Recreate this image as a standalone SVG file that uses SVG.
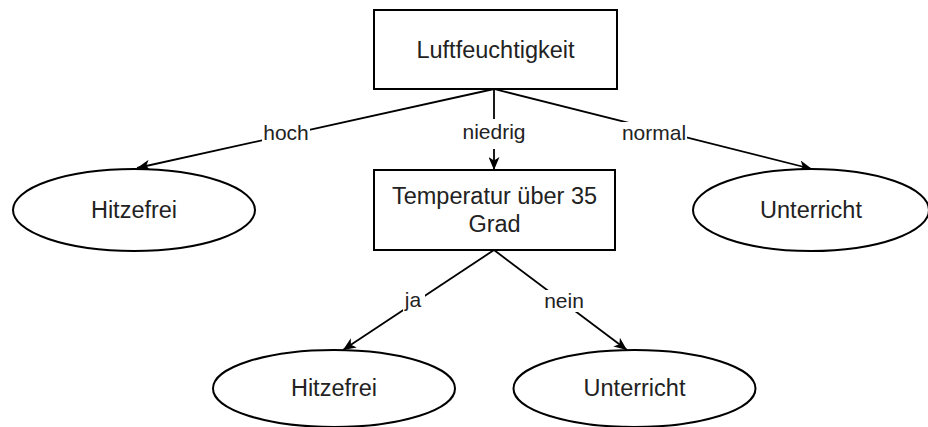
<svg xmlns="http://www.w3.org/2000/svg" width="928" height="427" viewBox="0 0 928 427">
  <style>
    .shape { fill: #ffffff; stroke: #000000; stroke-width: 2; }
    .edge { fill: none; stroke: #000000; stroke-width: 1.8; marker-end: url(#arrow); }
    .node-text { font-family: "Liberation Sans", Arial, sans-serif; font-size: 23.5px; fill: #222222; text-anchor: middle; }
    .label-bg { fill: #ffffff; stroke: none; }
    .label-text { font-family: "Liberation Sans", Arial, sans-serif; font-size: 21px; fill: #222222; text-anchor: middle; }
  </style>
  <defs>
    <marker id="arrow" markerUnits="userSpaceOnUse" viewBox="0 0 13 11" refX="13" refY="5.5" markerWidth="13" markerHeight="11" orient="auto">
      <path d="M0,0 L13,5.5 L0,11 L3.5,5.5 Z" fill="#000000"/>
    </marker>
  </defs>
  <rect width="928" height="427" fill="#ffffff"/>

  <g id="connectors">
    <line class="edge" x1="494" y1="89" x2="137" y2="168"/>
    <line class="edge" x1="494" y1="89" x2="494" y2="170"/>
    <line class="edge" x1="494" y1="89" x2="812" y2="169"/>
    <line class="edge" x1="494" y1="250" x2="343" y2="350"/>
    <line class="edge" x1="494" y1="250" x2="627" y2="350"/>
    <g id="label-hoch">
      <rect class="label-bg" x="262" y="122" width="48" height="22"/>
      <text class="label-text" x="286" y="140">hoch</text>
    </g>
    <g id="label-niedrig">
      <rect class="label-bg" x="461" y="119" width="66" height="30"/>
      <text class="label-text" x="494" y="139">niedrig</text>
    </g>
    <g id="label-normal">
      <rect class="label-bg" x="621" y="122" width="66" height="22"/>
      <text class="label-text" x="654" y="140">normal</text>
    </g>
    <g id="label-ja">
      <rect class="label-bg" x="403" y="290" width="22" height="26"/>
      <text class="label-text" x="413" y="307">ja</text>
    </g>
    <g id="label-nein">
      <rect class="label-bg" x="542" y="290" width="44" height="22"/>
      <text class="label-text" x="564" y="308">nein</text>
    </g>
  </g>

  <g id="node-luftfeuchtigkeit">
    <rect class="shape" x="374" y="10" width="243" height="79"/>
    <text class="node-text" x="495.5" y="57.5">Luftfeuchtigkeit</text>
  </g>

  <g id="node-hitzefrei-1">
    <ellipse class="shape" cx="134" cy="210" rx="121" ry="41"/>
    <text class="node-text" x="134" y="218">Hitzefrei</text>
  </g>

  <g id="node-temperatur">
    <rect class="shape" x="374" y="170" width="241" height="80"/>
    <text class="node-text" x="494.5" y="204">Temperatur über 35</text>
    <text class="node-text" x="494.5" y="232">Grad</text>
  </g>

  <g id="node-unterricht-1">
    <ellipse class="shape" cx="811" cy="210" rx="118" ry="41"/>
    <text class="node-text" x="811" y="218">Unterricht</text>
  </g>

  <g id="node-hitzefrei-2">
    <ellipse class="shape" cx="334" cy="388.5" rx="121" ry="38.5"/>
    <text class="node-text" x="334" y="396">Hitzefrei</text>
  </g>

  <g id="node-unterricht-2">
    <ellipse class="shape" cx="634.5" cy="388.5" rx="121" ry="38.5"/>
    <text class="node-text" x="634.5" y="396">Unterricht</text>
  </g>
</svg>
